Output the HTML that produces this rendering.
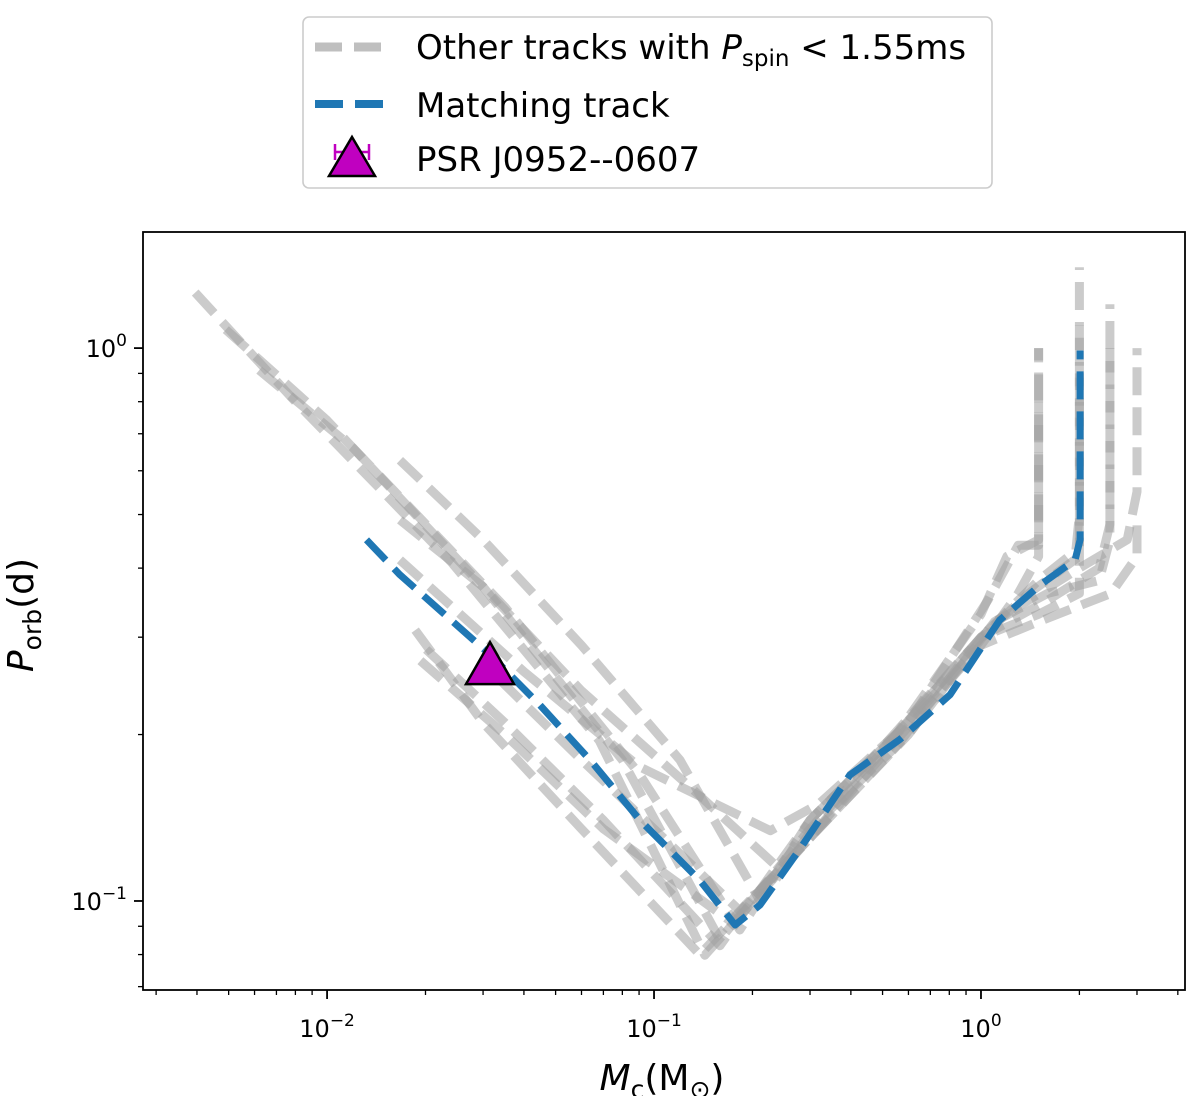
<!DOCTYPE html>
<html><head><meta charset="utf-8"><style>
html,body{margin:0;padding:0;background:#fff;}
svg{display:block;font-family:"DejaVu Sans","Liberation Sans",sans-serif;}
</style></head><body>
<svg id="chart" width="1200" height="1096" viewBox="0 0 1200 1096" xmlns="http://www.w3.org/2000/svg">
<g id="tracks"></g>
<g id="axes"></g>
<rect x="143" y="232" width="1042" height="758" fill="none" stroke="#000" stroke-width="1.8"/>
<text transform="translate(33,615) rotate(-90)" text-anchor="middle" font-size="36"><tspan font-style="italic">P</tspan><tspan font-size="25" dy="8">orb</tspan><tspan dy="-8">(d)</tspan></text>
<text x="662" y="1090" text-anchor="middle" font-size="36"><tspan font-style="italic">M</tspan><tspan font-size="25" dy="8">c</tspan><tspan dy="-8">(M</tspan><tspan font-size="25" dy="8">⊙</tspan><tspan dy="-8">)</tspan></text>
<g>
<rect x="303" y="17" width="689" height="171" rx="6" fill="#fff" stroke="#ccc" stroke-width="1.6"/>
<line x1="315" y1="47" x2="390" y2="47" stroke="#bfbfbf" stroke-width="9" stroke-dasharray="27 12"/>
<text x="416" y="59" font-size="34">Other tracks with <tspan font-style="italic">P</tspan><tspan font-size="23" dy="7">spin</tspan><tspan dy="-7"> &lt; 1.55ms</tspan></text>
<line x1="315" y1="104" x2="390" y2="104" stroke="#1f77b4" stroke-width="8" stroke-dasharray="28 12"/>
<text x="416" y="117" font-size="34">Matching track</text>
<g stroke="#c000c0" stroke-width="2.5"><line x1="335" y1="152" x2="369" y2="152"/><line x1="335" y1="144" x2="335" y2="160"/><line x1="369" y1="144" x2="369" y2="160"/></g>
<polygon points="352,137 375,176 329,176" fill="#c000c0" stroke="#000" stroke-width="2.5"/>
<text x="416" y="171" font-size="34">PSR J0952--0607</text>
</g>
</svg>
<script>
const xMinLog=-2.563, xMaxLog=0.624, yMinLog=-1.161, yMaxLog=0.21;
const X0=143,X1=1185,Y0=990,Y1=232;
function xs(m){return X0+(Math.log10(m)-xMinLog)/(xMaxLog-xMinLog)*(X1-X0);}
function ys(p){return Y0-(Math.log10(p)-yMinLog)/(yMaxLog-yMinLog)*(Y0-Y1);}

const xMajorTicks=[0.01,0.1,1];
const xMajorLabels=["10","10","10"];
const xMajorExps=["−2","−1","0"];
const xMinorTicks=[0.003,0.004,0.005,0.006,0.007,0.008,0.009,0.02,0.03,0.04,0.05,0.06,0.07,0.08,0.09,0.2,0.3,0.4,0.5,0.6,0.7,0.8,0.9,2,3,4];
const yMajorTicks=[0.1,1];
const yMajorExps=["−1","0"];
const yMinorTicks=[0.07,0.08,0.09,0.2,0.3,0.4,0.5,0.6,0.7,0.8,0.9];

const greyMass=[
[0.00395,0.008,0.024,0.068,0.143,0.3,0.55,1.0,1.3,1.5,1.5],
[0.0049,0.01,0.03,0.08,0.159,0.3,0.55,1.0,1.5,1.95,2.0,2.0],
[0.0062,0.012,0.035,0.09,0.183,0.3,0.55,1.0,1.6,2.3,2.48,2.48],
[0.0167,0.03,0.06,0.12,0.211,0.32,0.6,1.1,2.0,2.8,3.0,3.0],
[0.0167,0.03,0.06,0.13,0.243,0.3,0.55,1.0,1.2,1.5,1.5],
[0.0186,0.03,0.06,0.138,0.3,0.6,1.1,1.6,2.3,2.48,2.48],
[0.0193,0.035,0.07,0.171,0.3,0.55,1.0,1.5,2.0,2.0],
[0.0201,0.035,0.07,0.159,0.3,0.5,1.0,1.4,2.0,2.0],
[0.0338,0.06,0.1,0.183,0.3,0.55,1.0,1.5,2.5,3.0,3.0],
[0.0167,0.04,0.09,0.227,0.32,0.6,1.05,1.3,1.5,1.5]
];
const greyPeriod=[
[1.26,0.80,0.41,0.195,0.0798,0.13,0.195,0.29,0.36,0.42,1.0],
[1.08,0.74,0.37,0.18,0.0851,0.135,0.2,0.3,0.38,0.43,0.5,1.4],
[0.912,0.66,0.34,0.17,0.0886,0.14,0.2,0.3,0.35,0.4,0.48,1.2],
[0.627,0.45,0.29,0.18,0.10,0.14,0.2,0.32,0.4,0.45,0.55,1.0],
[0.489,0.37,0.24,0.16,0.114,0.14,0.2,0.33,0.42,0.45,1.0],
[0.309,0.21,0.135,0.08,0.13,0.2,0.32,0.36,0.38,0.45,1.0],
[0.272,0.2,0.135,0.092,0.13,0.19,0.3,0.33,0.36,1.1],
[0.285,0.21,0.14,0.083,0.14,0.19,0.3,0.36,0.42,0.9],
[0.251,0.18,0.135,0.096,0.13,0.2,0.29,0.32,0.36,0.42,0.5],
[0.414,0.26,0.175,0.134,0.15,0.21,0.35,0.44,0.44,0.8]
];
const matchMass=[0.0132,0.0167,0.0315,0.0448,0.0637,0.0906,0.138,0.177,0.211,0.279,0.397,0.565,0.804,1.14,1.51,1.94,2.01,2.01];
const matchPeriod=[0.45,0.389,0.279,0.226,0.18,0.14,0.109,0.0905,0.0984,0.124,0.169,0.196,0.236,0.322,0.372,0.414,0.45,0.99];
const psrMass=[0.0315];
const psrPeriod=[0.267];

const NS="http://www.w3.org/2000/svg";
const tracks=document.getElementById('tracks');
const axes=document.getElementById('axes');
function mk(tag,attrs,parent){const e=document.createElementNS(NS,tag);for(const k in attrs)e.setAttribute(k,attrs[k]);parent.appendChild(e);return e;}
function path(ms,ps){return ms.map((m,i)=>(i?'L':'M')+xs(m).toFixed(1)+','+ys(ps[i]).toFixed(1)).join(' ');}

greyMass.forEach((ms,i)=>{
  const p=mk('path',{d:path(ms,greyPeriod[i]),fill:'none',stroke:'#a0a0a0','stroke-opacity':'0.55','stroke-width':'9','stroke-dasharray':'28 12','stroke-linejoin':'round'},tracks);
  
  
});
const mp=mk('path',{d:path(matchMass,matchPeriod),fill:'none',stroke:'#1f77b4','stroke-width':'7','stroke-dasharray':'28 12','stroke-linejoin':'round'},tracks);


psrMass.forEach((m,i)=>{
  const cx=xs(m), cy=ys(psrPeriod[i]);
  const eb=mk('line',{x1:cx-6,x2:cx+6,y1:cy,y2:cy,stroke:'#c000c0','stroke-width':'2'},tracks);
  
  
  const t=mk('polygon',{points:`${cx},${cy-23} ${cx+24},${cy+19} ${cx-24},${cy+19}`,fill:'#c000c0',stroke:'#000','stroke-width':'2.5'},tracks);
  
  
});

xMajorTicks.forEach((v,i)=>{
  const x=xs(v);
  const l=mk('line',{x1:x,x2:x,y1:990,y2:999,stroke:'#000','stroke-width':'1.8'},axes);
  
  
  const t=mk('text',{x:x,y:1037,'text-anchor':'middle','font-size':'24'},axes);
  
  
  t.innerHTML=xMajorLabels[i]+'<tspan font-size="17" dy="-11">'+xMajorExps[i]+'</tspan>';
});
xMinorTicks.forEach(v=>{
  const x=xs(v);
  const l=mk('line',{x1:x,x2:x,y1:990,y2:995,stroke:'#000','stroke-width':'1.3'},axes);
  
  
});
yMajorTicks.forEach((v,i)=>{
  const y=ys(v);
  const l=mk('line',{x1:134,x2:143,y1:y,y2:y,stroke:'#000','stroke-width':'1.8'},axes);
  
  
  const t=mk('text',{x:127,y:y+9,'text-anchor':'end','font-size':'24'},axes);
  
  
  t.innerHTML='10<tspan font-size="17" dy="-11">'+yMajorExps[i]+'</tspan>';
});
yMinorTicks.forEach(v=>{
  const y=ys(v);
  const l=mk('line',{x1:138,x2:143,y1:y,y2:y,stroke:'#000','stroke-width':'1.3'},axes);
  
  
});
</script>
</body></html>
